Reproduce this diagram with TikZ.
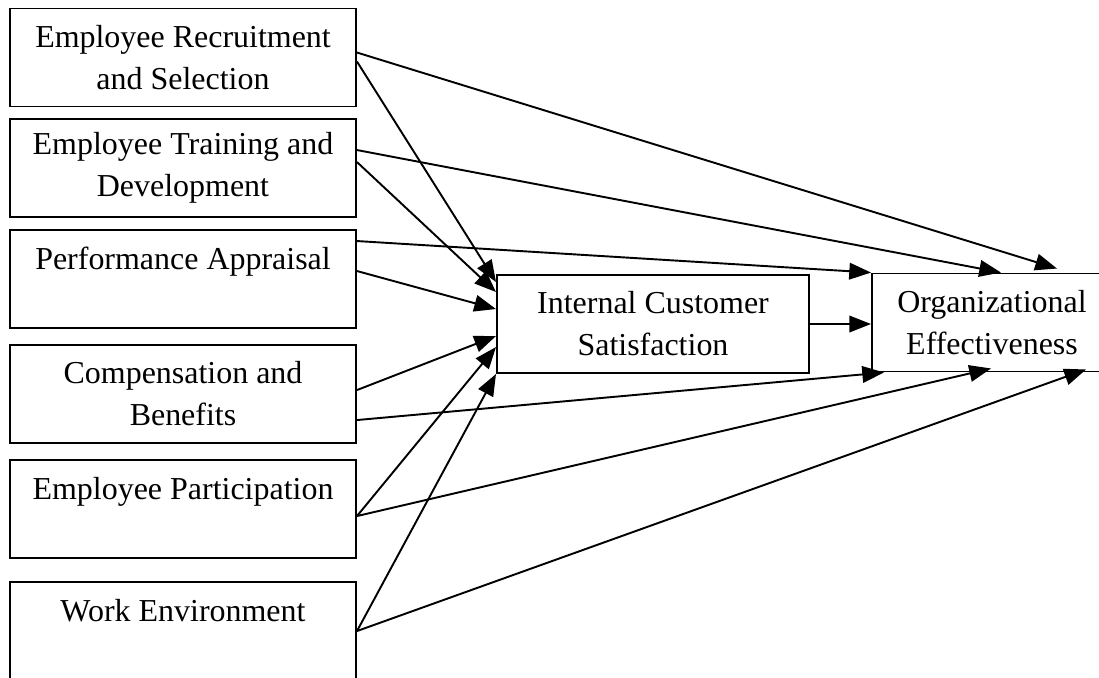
\documentclass[tikz,border=0pt]{standalone}
\usepackage{fontspec}
\setmainfont{Liberation Serif}
\usetikzlibrary{calc,arrows.meta}
\usetikzlibrary{positioning}

\begin{document}
\begin{tikzpicture}[x=0.01375cm, y=-0.01375cm, line width=0.75pt,
		box/.style={draw, rectangle, inner sep=0pt, align=center,
			minimum width=4.7575cm, minimum height=1.3475cm,
			font=\fontsize{12.5}{16.4}\selectfont},
		arr/.style={-{Triangle[length=8.5pt,width=6.5pt]}}]
						\useasboundingbox (0,0) rectangle (1099,677);
						\node[box] (ers) at (183,57.5) {Employee Recruitment\\and Selection};
						\node[box] (etd) at (183,168) {Employee Training and\\Development};
						\node[box] (pa) at (183,279) {Performance Appraisal\\\mbox{}};
						\node[box] (cb) at (183,394) {Compensation and\\Benefits};
						\node[box] (ep) at (183,509) {Employee Participation\\\mbox{}};
						\node[box] (we) at (183,631) {Work Environment\\\mbox{}};
						\node[box, minimum width=4.29cm] (ics) at (653,324) {Internal Customer\\Satisfaction};
						\node[box, minimum width=3.3cm] (oe) at (992,322.5) {Organizational\\Effectiveness};
						% to internal customer satisfaction
						\draw[arr] ($(ers.north east)+(0,54)$) -- ($(ics.north west)+(0,8)$);
						\draw[arr] ($(etd.north east)+(0,44)$) -- ($(ics.north west)+(0,18)$);
						\draw[arr] ($(pa.north east)+(0,42)$) -- ($(ics.north west)+(0,35)$);
						\draw[arr] ($(cb.north east)+(0,46)$) -- ($(ics.north west)+(0,62)$);
						\draw[arr] ($(ep.north east)+(0,57)$) -- ($(ics.north west)+(0,73)$);
						\draw[arr] ($(we.north east)+(0,50)$) -- (ics.south west);
						% to organizational effectiveness
						\draw[arr] ($(ers.north east)+(0,45)$) -- ($(oe.north west)+(186,-4)$);
						\draw[arr] ($(etd.north east)+(0,32)$) -- ($(oe.north west)+(130,0)$);
						\draw[arr] ($(pa.north east)+(0,12)$) -- (oe.north west);
						\draw[arr] ($(cb.north east)+(0,76)$) -- ($(oe.south west)+(13,0)$);
						\draw[arr] ($(ep.north east)+(0,57)$) -- ($(oe.south west)+(120,-4)$);
						\draw[arr] ($(we.north east)+(0,50)$) -- ($(oe.south west)+(215,-3)$);
						\draw[arr] (ics.east) -- (ics.east -| oe.west); % mediator
				\end{tikzpicture}
\end{document}
